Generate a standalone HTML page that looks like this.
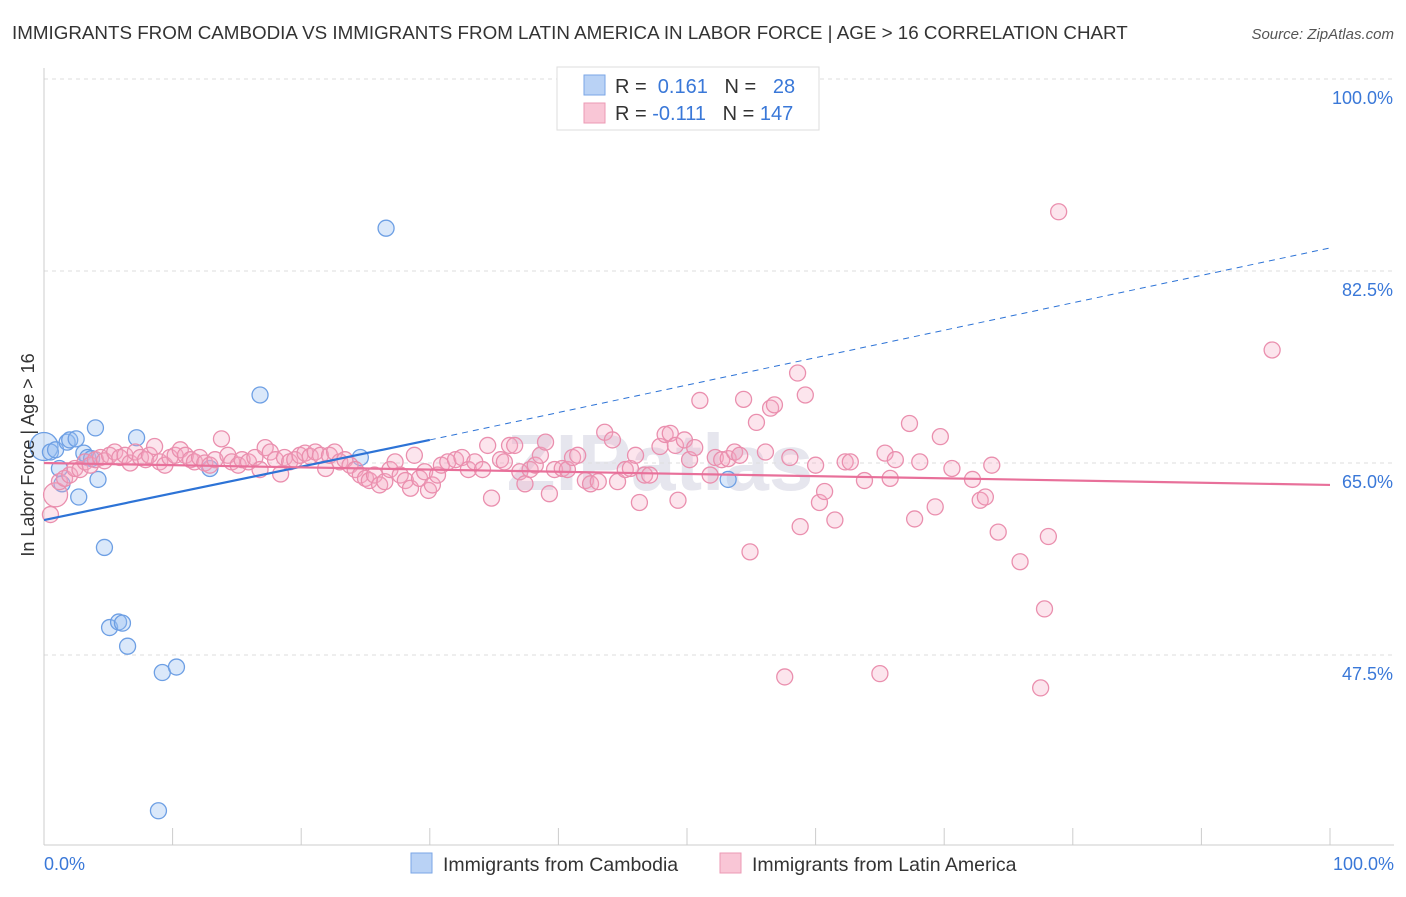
<!DOCTYPE html>
<html><head><meta charset="utf-8"><style>
body{margin:0;background:#fff;font-family:"Liberation Sans",sans-serif;}
svg text{font-family:"Liberation Sans",sans-serif;}
</style></head><body>
<svg width="1406" height="892" id="chart">
<text x="12" y="39" font-size="18.8" fill="#333">IMMIGRANTS FROM CAMBODIA VS IMMIGRANTS FROM LATIN AMERICA IN LABOR FORCE | AGE &gt; 16 CORRELATION CHART</text>
<text x="1394" y="39" font-size="15" fill="#555" font-style="italic" text-anchor="end">Source: ZipAtlas.com</text>
<text x="660" y="490" font-size="80" fill="#e6e6ee" font-weight="bold" text-anchor="middle">ZIPatlas</text>
<g id="grid"></g>
<g id="axes"></g>
<g id="pts"></g>
<g id="lines"></g>
<text transform="translate(34,455) rotate(-90)" font-size="18" fill="#333" text-anchor="middle">In Labor Force | Age &gt; 16</text>
<text x="44" y="870" font-size="18" fill="#3a78d8">0.0%</text>
<text x="1394" y="870" font-size="18" fill="#3a78d8" text-anchor="end">100.0%</text>
<g>
<rect x="557" y="67" width="262" height="63" fill="#fff" stroke="#ddd"/>
<rect x="584" y="75" width="21" height="20" fill="#b9d2f5" stroke="#7aa6e6"/>
<rect x="584" y="103" width="21" height="20" fill="#f9c6d6" stroke="#ec9ab4"/>
<text x="615" y="93" font-size="20" fill="#333">R = <tspan fill="#3a78d8">&#160;0.161</tspan>&#160;&#160;&#160;N = <tspan fill="#3a78d8">&#160;&#160;28</tspan></text>
<text x="615" y="120" font-size="20" fill="#333">R = <tspan fill="#3a78d8">-0.111</tspan>&#160;&#160;&#160;N = <tspan fill="#3a78d8">147</tspan></text>
</g>
<g>
<rect x="411" y="853" width="21" height="20" fill="#b9d2f5" stroke="#7aa6e6"/>
<text x="443" y="871" font-size="19.5" fill="#333">Immigrants from Cambodia</text>
<rect x="720" y="853" width="21" height="20" fill="#f9c6d6" stroke="#ec9ab4"/>
<text x="752" y="871" font-size="19.5" fill="#333">Immigrants from Latin America</text>
</g>
</svg>
<script>
const yTicks=[100,82.5,65,47.5];
const yTickLabels=["100.0%","82.5%","65.0%","47.5%"];
const xTicks=[0,10,20,30,40,50,60,70,80,90,100];
const blueX=[0,0.5,0.9,1.2,1.4,1.8,2,2.5,2.7,3.1,3.4,3.7,4,4.2,4.7,5.1,5.8,6.1,6.5,7.2,9.2,10.3,8.9,12.9,16.8,26.6,24.6,53.2];
const blueY=[66.5,66,66.2,64.5,63.1,66.9,67.1,67.2,61.9,65.9,65.5,65.4,68.2,63.5,57.3,50,50.5,50.4,48.3,67.3,45.9,46.4,33.3,64.5,71.2,86.4,65.5,63.5];
const pinkX=[0.5,0.9,1.2,1.6,2.0,2.4,2.8,3.2,3.6,4.0,4.4,4.7,5.1,5.5,5.9,6.3,6.7,7.1,7.5,7.9,8.2,8.6,9.0,9.4,9.8,10.2,10.6,11.0,11.4,11.7,12.1,12.5,12.9,13.3,13.8,14.3,14.6,15.1,15.4,15.9,16.4,16.8,17.2,17.6,18.0,18.4,18.7,19.1,19.5,19.9,20.3,20.7,21.1,21.5,21.9,22.2,22.6,23.0,23.4,23.8,24.2,24.6,25.0,25.3,25.7,26.1,26.5,26.9,27.3,27.7,28.1,28.5,28.8,29.2,29.6,29.9,30.2,30.6,30.9,31.4,32.0,32.5,33.0,33.5,34.1,34.5,34.8,35.5,35.8,36.2,36.6,37.0,37.4,37.8,38.2,38.6,39.0,39.3,39.7,40.3,40.7,41.1,41.5,42.1,42.5,43.1,43.6,44.2,44.6,45.2,45.6,46.0,46.3,46.7,47.1,47.9,48.3,48.7,49.1,49.3,49.8,50.2,50.6,51.0,51.8,52.2,52.7,53.2,53.7,54.1,54.4,54.9,55.4,56.1,56.5,56.8,57.6,58.0,58.6,58.8,59.2,60.0,60.3,60.7,61.5,62.3,62.7,63.8,65.0,65.4,65.8,66.2,67.3,67.7,68.1,69.3,69.7,70.6,72.2,72.8,73.2,73.7,74.2,75.9,77.5,77.8,78.1,78.9,95.5];
const pinkY=[60.3,62.1,63.3,63.6,63.9,64.5,64.4,65.1,64.8,65.3,65.5,65.2,65.7,66.0,65.5,65.7,65.0,66.0,65.5,65.3,65.7,66.5,65.1,64.8,65.5,65.7,66.2,65.7,65.3,65.1,65.5,65.0,64.8,65.3,67.2,65.7,65.1,64.8,65.3,65.1,65.5,64.4,66.4,66.0,65.3,64.0,65.5,65.1,65.3,65.7,65.9,65.6,66.0,65.7,64.5,65.7,66.0,65.1,65.3,64.8,64.4,63.9,63.6,63.4,63.9,63.0,63.3,64.4,65.1,63.9,63.4,62.7,65.7,63.6,64.2,62.5,63.0,63.9,64.8,65.1,65.3,65.5,64.4,65.1,64.4,66.6,61.8,65.3,65.1,66.6,66.6,64.2,63.1,64.4,64.8,65.7,66.9,62.2,64.4,64.5,64.4,65.5,65.7,63.4,63.1,63.3,67.8,67.1,63.3,64.4,64.5,65.7,61.4,63.9,63.9,66.5,67.6,67.7,66.6,61.6,67.1,65.3,66.4,70.7,63.9,65.5,65.3,65.4,66.0,65.7,70.8,56.9,68.7,66.0,70.0,70.3,45.5,65.5,73.2,59.2,71.2,64.8,61.4,62.4,59.8,65.1,65.1,63.4,45.8,65.9,63.6,65.3,68.6,59.9,65.1,61.0,67.4,64.5,63.5,61.6,61.9,64.8,58.7,56.0,44.5,51.7,58.3,87.9,75.3];
const blueTrend=[0,59.8,30,67.1,100,84.6];
const pinkTrend=[0,65,100,63];
const X=v=>44+v*12.86, Y=v=>79+(100-v)*10.971;
const NS="http://www.w3.org/2000/svg";
function mk(t,a,p){const e=document.createElementNS(NS,t);for(const k in a)e.setAttribute(k,a[k]);document.getElementById(p).appendChild(e);return e;}
yTicks.forEach((v,i)=>{
 const g=mk('line',{x1:44,x2:1394,y1:Y(v),y2:Y(v),stroke:'#ddd','stroke-dasharray':'4,4'},'grid');
 
 
 const t=mk('text',{x:1393,y:Y(v)+25,'font-size':18,fill:'#3a78d8','text-anchor':'end'},'axes');
 t.textContent=yTickLabels[i];
 
 
});
const ax=mk('line',{x1:44,x2:44,y1:68,y2:845,stroke:'#ccc'},'axes');


const bx=mk('line',{x1:44,x2:1394,y1:845,y2:845,stroke:'#ccc'},'axes');


xTicks.forEach(v=>{
 const l=mk('line',{x1:X(v),x2:X(v),y1:828,y2:845,stroke:'#ccc'},'axes');
 
 
});
blueX.forEach((v,i)=>{
 const c=mk('circle',{cx:X(v),cy:Y(blueY[i]),r:i==0?14:8,fill:'rgba(150,188,240,0.35)',stroke:'#6d9fe4','stroke-width':1.3},'pts');
 
 
});
pinkX.forEach((v,i)=>{
 const c=mk('circle',{cx:X(v),cy:Y(pinkY[i]),r:i==1?12:8,fill:'rgba(245,170,195,0.3)',stroke:'#ea8fae','stroke-width':1.3},'pts');
 
 
});
const b1=mk('line',{x1:X(blueTrend[0]),y1:Y(blueTrend[1]),x2:X(blueTrend[2]),y2:Y(blueTrend[3]),stroke:'#2d73d6','stroke-width':2.2},'lines');


const b2=mk('line',{x1:X(blueTrend[2]),y1:Y(blueTrend[3]),x2:X(blueTrend[4]),y2:Y(blueTrend[5]),stroke:'#2d73d6','stroke-width':1,'stroke-dasharray':'6,5'},'lines');


const p1=mk('line',{x1:X(pinkTrend[0]),y1:Y(pinkTrend[1]),x2:X(pinkTrend[2]),y2:Y(pinkTrend[3]),stroke:'#e8709a','stroke-width':2.2},'lines');


</script>
</body></html>
